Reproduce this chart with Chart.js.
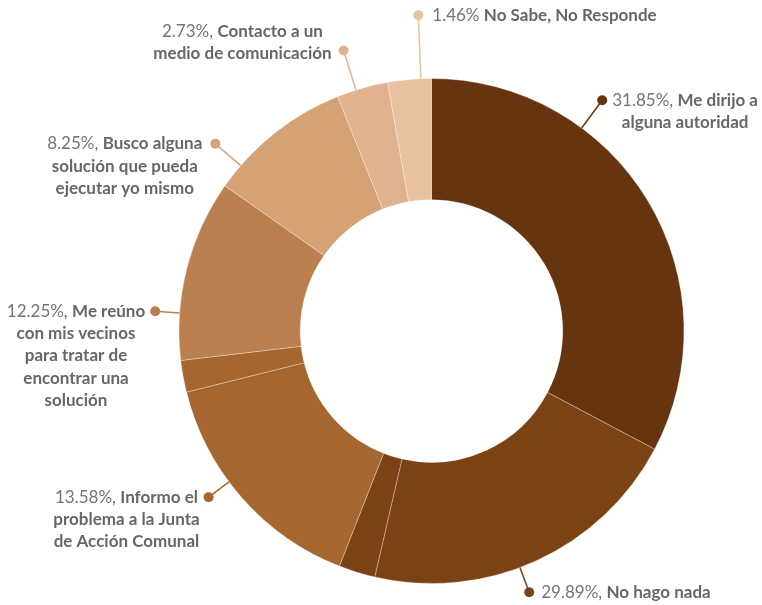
<!DOCTYPE html>
<html>
<head>
<meta charset="utf-8">
<script src="https://cdn.jsdelivr.net/npm/chart.js@4.4.0/dist/chart.umd.min.js"></script>
<style>
  html, body { margin: 0; padding: 0; background: #fff; }
  #wrap { width: 762px; height: 605px; }
</style>
</head>
<body>
<div id="wrap"><canvas id="chartArea" width="762" height="605"></canvas></div>
<script>
// categories and their published shares
var categories = [
  'Me dirijo a alguna autoridad',
  'No hago nada',
  'Informo el problema a la Junta de Acción Comunal',
  'Me reúno con mis vecinos para tratar de encontrar una solución',
  'Busco alguna solución que pueda ejecutar yo mismo',
  'Contacto a un medio de comunicación',
  'No Sabe, No Responde'
]
var shares = [31.85, 29.89, 13.58, 12.25, 8.25, 2.73, 1.46]

// slices as drawn in the picture (share of the ring), with the category each belongs to
var sliceValues = [32.75, 20.86, 2.33, 15.17, 2.03, 11.61, 9.19, 3.28, 2.78]
var sliceCategory = [0, 1, 1, 2, 2, 3, 4, 5, 6]

var colors = ['#663510', '#7b4213', '#a5662f', '#bc8050', '#d4a275', '#e0b38e', '#e8c2a0']

// label text lines and placement
var nameLines = [
  ['Me dirijo a', 'alguna autoridad'],
  ['No hago nada'],
  ['Informo el', 'problema a la Junta', 'de Acción Comunal'],
  ['Me reúno', 'con mis vecinos', 'para tratar de', 'encontrar una', 'solución'],
  ['Busco alguna', 'solución que pueda', 'ejecutar yo mismo'],
  ['Contacto a un', 'medio de comunicación'],
  ['No Sabe, No Responde']
]
var labelLayout = [
  {angle: 36.5, r: 287, side: 'right', valign: 'top', gap: 11, sep: ', '},
  {angle: 159.5, r: 279, side: 'right', valign: 'top', gap: 12, sep: ', '},
  {angle: 233.3, r: 278, side: 'left', valign: 'top', gap: 9, sep: ', '},
  {angle: 274.1, r: 277, side: 'left', valign: 'top', gap: 10, sep: ', '},
  {angle: 310.9, r: 286, side: 'left', valign: 'top', gap: 13, sep: ', '},
  {angle: 342.6, r: 294, side: 'left', valign: 'bottom', gap: 12, sep: ', '},
  {angle: 357.6, r: 316, side: 'right', valign: 'top', gap: 14, sep: ' '}
]

var FONT = 'Lato, "Open Sans", sans-serif'
var FS = 17
var LH = 22.3

var labelPlugin = {
  id: 'outLabels',
  afterDatasetsDraw: function(chart) {
    var arc = chart.getDatasetMeta(0).data[0]
    if (!arc) return
    var cx = arc.x, cy = arc.y, R = arc.outerRadius
    var ctx = chart.ctx
    ctx.save()
    ctx.textBaseline = 'middle'
    for (var i = 0; i < categories.length; i++) {
      var L = labelLayout[i]
      var a = L.angle * Math.PI / 180
      var sx = cx + R * Math.sin(a), sy = cy - R * Math.cos(a)
      var dx = cx + L.r * Math.sin(a), dy = cy - L.r * Math.cos(a)
      ctx.strokeStyle = colors[i]
      ctx.lineWidth = 1.5
      ctx.beginPath()
      ctx.moveTo(sx, sy)
      ctx.lineTo(dx, dy)
      ctx.stroke()
      ctx.fillStyle = colors[i]
      ctx.beginPath()
      ctx.arc(dx, dy, 5, 0, Math.PI * 2)
      ctx.fill()

      var pct = shares[i].toFixed(2) + '%' + L.sep
      var lines = nameLines[i]
      ctx.font = '400 ' + FS + 'px ' + FONT
      var pw = ctx.measureText(pct).width
      ctx.font = '700 ' + FS + 'px ' + FONT
      var widths = lines.map(function(t, k) {
        return ctx.measureText(t).width + (k === 0 ? pw : 0)
      })
      var maxW = Math.max.apply(null, widths)
      var blockCx = L.side === 'right' ? dx + L.gap + maxW / 2 : dx - L.gap - maxW / 2
      // keep the block inside the canvas
      blockCx = Math.min(blockCx, chart.width - 4 - maxW / 2)
      blockCx = Math.max(blockCx, 4 + maxW / 2)
      var y0 = L.valign === 'top' ? dy : dy + 3 - (lines.length - 1) * LH
      for (var k = 0; k < lines.length; k++) {
        var x = blockCx - widths[k] / 2
        var y = y0 + k * LH
        ctx.textAlign = 'left'
        if (k === 0) {
          ctx.font = '400 ' + FS + 'px ' + FONT
          ctx.fillStyle = '#747474'
          ctx.fillText(pct, x, y)
          x += pw
        }
        ctx.font = '700 ' + FS + 'px ' + FONT
        ctx.fillStyle = '#676767'
        ctx.fillText(lines[k], x, y)
      }
    }
    ctx.restore()
  }
}

var ctx = document.getElementById('chartArea').getContext('2d')
var myChart = new Chart(ctx, {
  type: 'doughnut',
  data: {
    labels: sliceCategory.map(function(c) { return categories[c] }),
    datasets: [{
      data: sliceValues,
      backgroundColor: sliceCategory.map(function(c) { return colors[c] }),
      borderColor: 'rgba(255,255,255,0.3)',
      borderWidth: 1,
      hoverOffset: 0
    }]
  },
  options: {
    responsive: false,
    animation: false,
    cutout: '52%',
    layout: { padding: { top: 78, bottom: 21, left: 178, right: 77 } },
    plugins: {
      legend: { display: false },
      tooltip: { enabled: false }
    }
  },
  plugins: [labelPlugin]
})
</script>
</body>
</html>
